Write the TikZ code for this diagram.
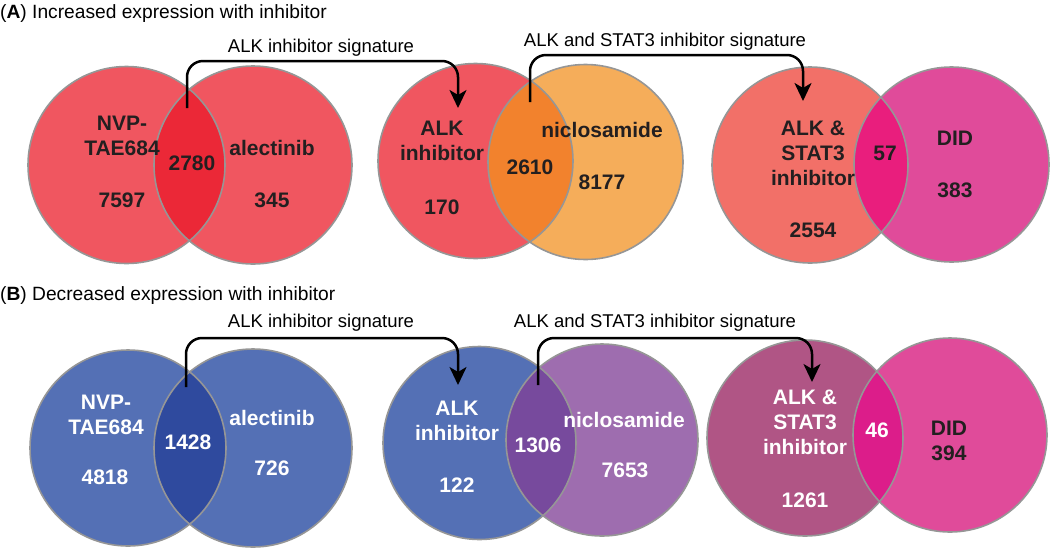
\documentclass[tikz,border=0pt]{standalone}
\usepackage{fontspec}
\setmainfont{Liberation Sans}
\usetikzlibrary{arrows.meta}
\definecolor{vgray}{RGB}{150,150,150}
\definecolor{txtdark}{RGB}{35,31,32}
\definecolor{redc}{RGB}{240,86,96}
\definecolor{redi}{RGB}{235,40,55}
\definecolor{orac}{RGB}{245,173,90}
\definecolor{orai}{RGB}{242,130,45}
\definecolor{salc}{RGB}{242,112,104}
\definecolor{magc}{RGB}{224,75,154}
\definecolor{magi}{RGB}{233,30,125}
\definecolor{bluc}{RGB}{84,112,181}
\definecolor{blui}{RGB}{47,74,158}
\definecolor{purc}{RGB}{158,109,175}
\definecolor{puri}{RGB}{119,74,157}
\definecolor{mauc}{RGB}{176,85,133}
\definecolor{maui}{RGB}{220,29,138}
\tikzset{
  vborder/.style={draw=vgray, line width=1.6pt},
  lbl/.style={font=\bfseries\fontsize{21}{25}\selectfont, align=center, inner sep=0pt},
  dk/.style={lbl, text=txtdark},
  wt/.style={lbl, text=white},
  sig/.style={font=\fontsize{18.5}{22}\selectfont, inner sep=0pt, text=black},
  ttl/.style={font=\fontsize{19.2}{23}\selectfont, inner sep=0pt, anchor=west, text=black},
  conn/.style={line width=2.5pt, rounded corners=16pt, -{Stealth[length=18pt,width=17pt,inset=5pt]}},
}
\newcommand\vennfill[8]{% x1 y1 r1 col1 x2 y2 r2 col2
  \fill[#4] (#1,#2) circle[radius=#3pt];
  \fill[#8] (#5,#6) circle[radius=#7pt];
}
\newcommand\vennmid[7]{% x1 y1 r1 x2 y2 r2 colint
  \begin{scope}
    \clip (#1,#2) circle[radius=#3pt];
    \fill[#7] (#4,#5) circle[radius=#6pt];
  \end{scope}
  \draw[vborder] (#1,#2) circle[radius=#3pt];
  \draw[vborder] (#4,#5) circle[radius=#6pt];
}
\begin{document}
\begin{tikzpicture}[x=1pt,y=-1pt]
\useasboundingbox (0,0) rectangle (1050,547);
% ---------- circles, row A ----------
\vennfill{126.5}{165}{98.5}{redc}{253}{165}{99}{redc}
\vennmid{126.5}{165}{98.5}{253}{165}{99}{redi}
\vennfill{475.5}{161}{97.5}{redc}{585.5}{162}{97.5}{orac}
\vennmid{475.5}{161}{97.5}{585.5}{162}{97.5}{orai}
\vennfill{810}{165}{98}{salc}{951.5}{164.5}{97.5}{magc}
\vennmid{810}{165}{98}{951.5}{164.5}{97.5}{magi}
% ---------- circles, row B ----------
\vennfill{128}{448}{98}{bluc}{253}{448}{99}{bluc}
\vennmid{128}{448}{98}{253}{448}{99}{blui}
\vennfill{479.5}{443}{96.5}{bluc}{602}{440}{96}{purc}
\vennmid{479.5}{443}{96.5}{602}{440}{96}{puri}
\vennfill{805}{438}{98}{mauc}{950}{435}{97}{magc}
\vennmid{805}{438}{98}{950}{435}{97}{maui}
% ---------- titles ----------
\node[ttl] (tA) at (0,14) {(\textbf{A}) Increased expression with inhibitor};
\node[ttl] (tB) at (0,296) {(\textbf{B}) Decreased expression with inhibitor};
% ---------- connectors row A ----------
\coordinate (sA1) at (187,108);
\coordinate (hA1) at (458,61);
\coordinate (eA1) at (458,108);
\coordinate (sA2) at (530,102);
\coordinate (hA2) at (803,55);
\coordinate (eA2) at (803,101);
\draw[conn] (sA1) |- (hA1) -- (eA1);
\draw[conn] (sA2) |- (hA2) -- (eA2);
\node[sig] (gA1) at (321,48) {ALK inhibitor signature};
\node[sig] (gA2) at (665,42) {ALK and STAT3 inhibitor signature};
% ---------- connectors row B ----------
\coordinate (sB1) at (186,387);
\coordinate (hB1) at (458,338);
\coordinate (eB1) at (458,385);
\coordinate (sB2) at (538,385);
\coordinate (hB2) at (812,338);
\coordinate (eB2) at (812,382);
\draw[conn] (sB1) |- (hB1) -- (eB1);
\draw[conn] (sB2) |- (hB2) -- (eB2);
\node[sig] (gB1) at (321,323) {ALK inhibitor signature};
\node[sig] (gB2) at (655,323) {ALK and STAT3 inhibitor signature};
% ---------- labels row A ----------
\node[dk] (a1n) at (122,136) {NVP-\\TAE684};
\node[dk] (a1x) at (122,200) {7597};
\node[dk] (a1i) at (192,163) {2780};
\node[dk] (a1r) at (272,148) {alectinib};
\node[dk] (a1y) at (272,200) {345};
\node[dk] (a2n) at (442,141) {ALK\\inhibitor};
\node[dk] (a2x) at (442,207) {170};
\node[dk] (a2i) at (530,167) {2610};
\node[dk] (a2r) at (602,130) {niclosamide};
\node[dk] (a2y) at (602,182) {8177};
\node[dk] (a3n) at (813,153) {ALK \&\\STAT3\\inhibitor};
\node[dk] (a3x) at (813,230) {2554};
\node[dk] (a3i) at (885,153) {57};
\node[dk] (a3r) at (955,138) {DID};
\node[dk] (a3y) at (955,190) {383};
% ---------- labels row B ----------
\node[wt] (b1n) at (106,415) {NVP-\\TAE684};
\node[wt] (b1x) at (105,477) {4818};
\node[wt] (b1i) at (188,442) {1428};
\node[wt] (b1r) at (272,418) {alectinib};
\node[wt] (b1y) at (272,468) {726};
\node[wt] (b2n) at (457,421) {ALK\\inhibitor};
\node[wt] (b2x) at (457,485) {122};
\node[wt] (b2i) at (538,445) {1306};
\node[wt] (b2r) at (624,420) {niclosamide};
\node[wt] (b2y) at (625,470) {7653};
\node[wt] (b3n) at (805,422) {ALK \&\\STAT3\\inhibitor};
\node[wt] (b3x) at (805,500) {1261};
\node[wt] (b3i) at (877,430) {46};
\node[dk] (b3r) at (949,441) {DID\\394};
\end{tikzpicture}
\end{document}
